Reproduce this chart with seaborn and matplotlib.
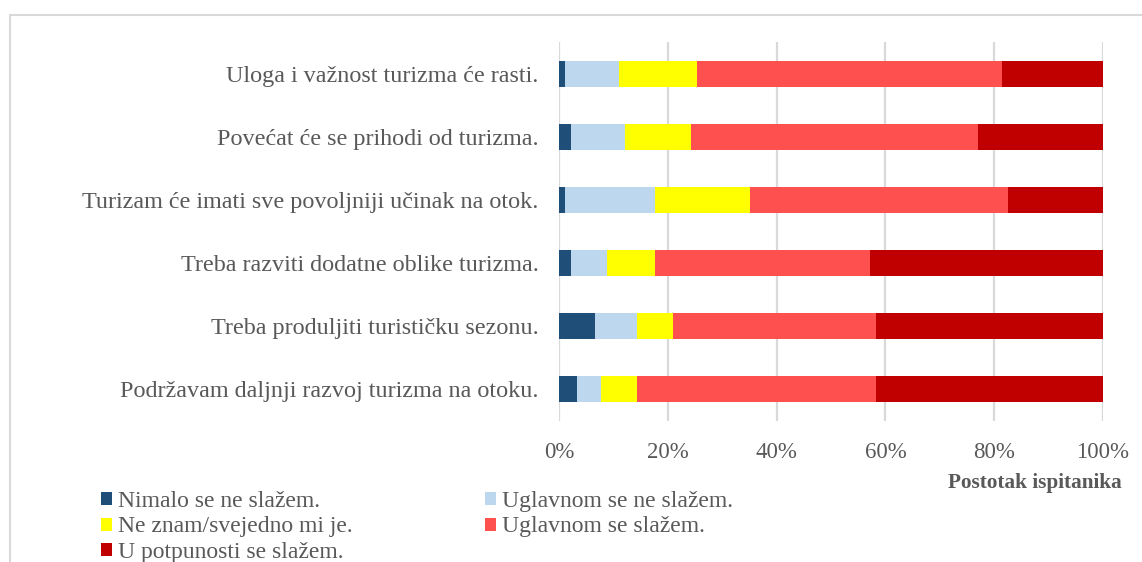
import matplotlib
matplotlib.use("Agg")
import matplotlib.pyplot as plt
from matplotlib.patches import Patch
from matplotlib.lines import Line2D
import numpy as np
import pandas as pd
import seaborn as sns

# Survey statements (top to bottom)
statements = [
    "Uloga i važnost turizma će rasti.",
    "Povećat će se prihodi od turizma.",
    "Turizam će imati sve povoljniji učinak na otok.",
    "Treba razviti dodatne oblike turizma.",
    "Treba produljiti turističku sezonu.",
    "Podržavam daljnji razvoj turizma na otoku.",
]

# Answer categories
answers = [
    "Nimalo se ne slažem.",
    "Uglavnom se ne slažem.",
    "Ne znam/svejedno mi je.",
    "Uglavnom se slažem.",
    "U potpunosti se slažem.",
]

# Share of respondents (%) per answer, one list per answer category
nimalo = [1.1, 2.2, 1.1, 2.2, 6.6, 3.3]
uglavnom_ne = [9.9, 9.9, 16.5, 6.6, 7.7, 4.4]
ne_znam = [14.3, 12.1, 17.6, 8.8, 6.6, 6.6]
uglavnom_da = [56.2, 52.8, 47.4, 39.6, 37.4, 44.0]
potpuno = [18.5, 23.0, 17.4, 42.8, 41.7, 41.7]

x_ticks = [0, 20, 40, 60, 80, 100]
x_tick_labels = ["0%", "20%", "40%", "60%", "80%", "100%"]

colors = ["#1f4e79", "#bdd7ee", "#ffff00", "#ff5050", "#c00000"]

sns.set_theme(style="white")
plt.rcParams["font.family"] = ["Liberation Serif", "DejaVu Serif"]
text_color = "#595959"
grid_color = "#d9d9d9"

df = pd.DataFrame({
    "statement": statements,
    answers[0]: nimalo,
    answers[1]: uglavnom_ne,
    answers[2]: ne_znam,
    answers[3]: uglavnom_da,
    answers[4]: potpuno,
})
cum = df[answers].cumsum(axis=1)
cum["statement"] = df["statement"]

fig = plt.figure(figsize=(11.42, 5.62), dpi=100)
ax = fig.add_axes([559 / 1142, 1 - 421 / 562, 544 / 1142, 379 / 562])

# Stacked bars: draw cumulative totals from the widest down
for ans, col in reversed(list(zip(answers, colors))):
    sns.barplot(data=cum, x=ans, y="statement", orient="h", color=col,
                width=0.41, linewidth=0, saturation=1, ax=ax, order=statements)

ax.set_xlim(0, 100)
ax.set_xticks(x_ticks)
ax.set_xticklabels(x_tick_labels)
ax.set_xlabel("")
ax.set_ylabel("")
ax.grid(axis="x", color=grid_color, linewidth=1.6)
ax.grid(axis="y", visible=False)
ax.set_axisbelow(True)
for s in ax.spines.values():
    s.set_visible(False)
ax.tick_params(axis="y", length=0, pad=14.5, labelsize=17.4, labelcolor=text_color)
ax.tick_params(axis="x", length=0, pad=15, labelsize=16.5, labelcolor=text_color)

fig.text(1035 / 1142, 1 - 483 / 562, "Postotak ispitanika", ha="center", va="center",
         fontsize=15.3, fontweight="bold", color=text_color)

# Legend, filled column by column
order = [0, 2, 4, 1, 3]
handles = [Patch(facecolor=colors[i], edgecolor="none") for i in order]
labels = [answers[i] for i in order]
fig.legend(handles, labels, loc="upper left",
           bbox_to_anchor=(101 / 1142, 1 - 491 / 562), ncol=2, frameon=False,
           fontsize=17, labelcolor=text_color, handlelength=0.47, handleheight=0.47,
           handletextpad=0.25, columnspacing=5.6, labelspacing=0.19,
           borderpad=0, borderaxespad=0)

# Outer chart border (runs off the right and bottom edges)
bx = 9.5 / 1142
by = 1 - 14.5 / 562
fig.add_artist(Line2D([bx, bx], [0, by], color=grid_color, linewidth=1.5,
                      transform=fig.transFigure))
fig.add_artist(Line2D([bx, 1.0], [by, by], color=grid_color, linewidth=1.5,
                      transform=fig.transFigure))

fig.savefig("out.png", dpi=100, facecolor="white")
